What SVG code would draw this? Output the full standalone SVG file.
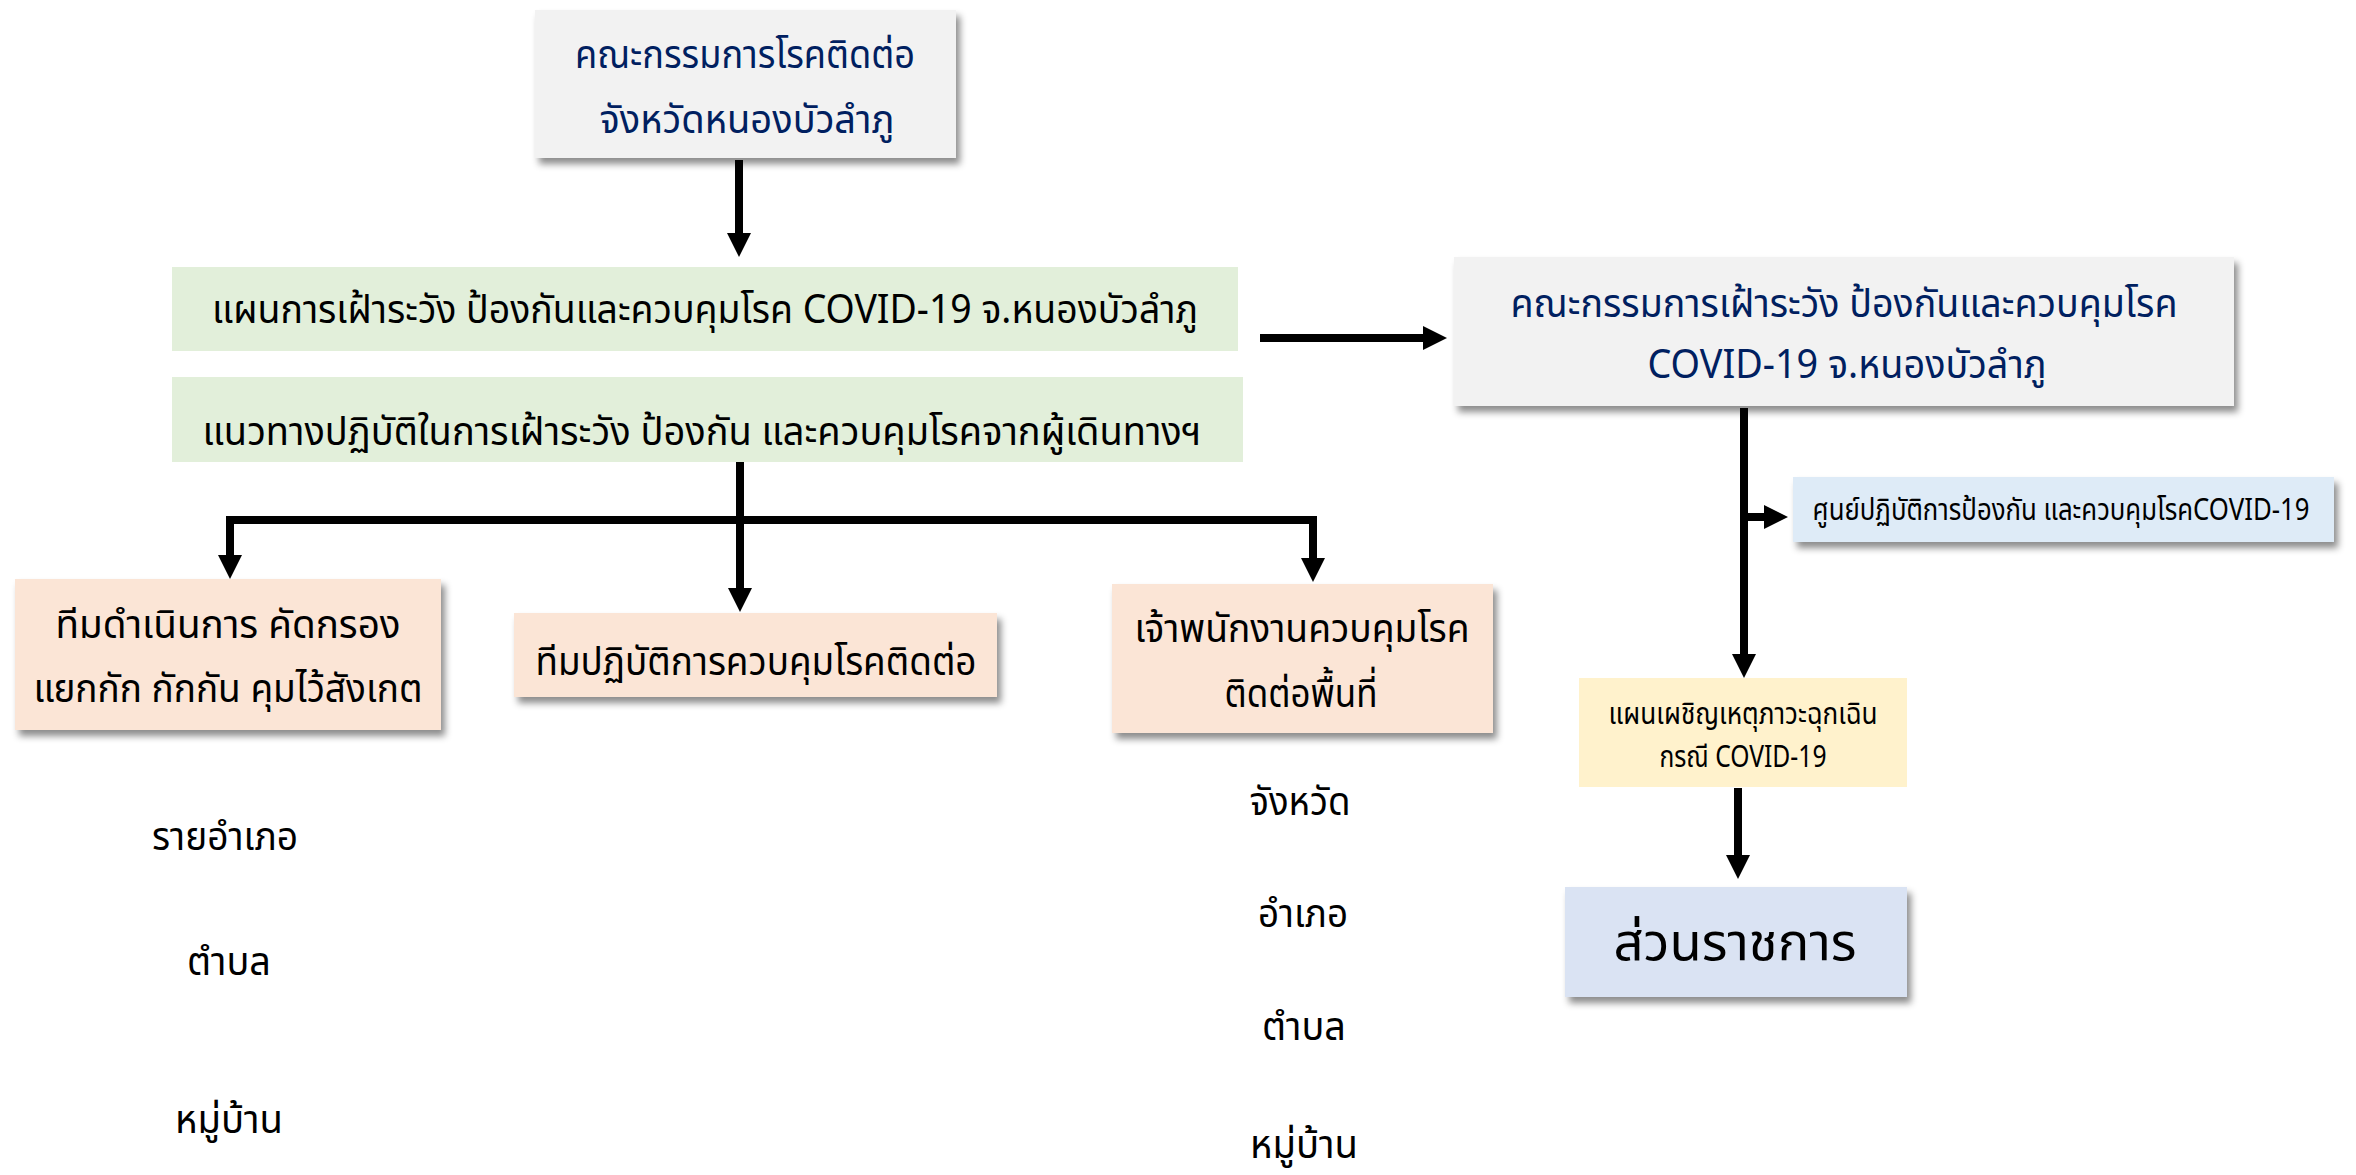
<svg xmlns="http://www.w3.org/2000/svg" width="2356" height="1175" viewBox="0 0 2356 1175">
<defs>
  <filter id="sh" x="-5%" y="-10%" width="115%" height="135%">
    <feDropShadow dx="4" dy="6" stdDeviation="3.5" flood-color="#000" flood-opacity="0.45"/>
  </filter>
  <marker id="ah" viewBox="0 0 24 24" refX="0" refY="12" markerWidth="24" markerHeight="24" markerUnits="userSpaceOnUse" orient="auto">
    <path d="M0,0 L24,12 L0,24 Z" fill="#000"/>
  </marker>
</defs>
<style>
  text { font-family: Tahoma, "Noto Sans Thai", "Noto Sans", "DejaVu Sans", sans-serif; text-anchor: middle; }
  .navy { fill: #002060; font-size: 40px; }
  .blk { fill: #000; font-size: 40px; }
  .sm { fill: #000; font-size: 30px; }
  .big { fill: #000; font-size: 52px; }
  .conn line, .conn path { stroke: #000; stroke-width: 8; fill: none; }
  .arr { marker-end: url(#ah); }
</style>
<rect width="2356" height="1175" fill="#fff"/>

<g class="conn" id="connectors">
  <line class="arr" x1="739" y1="160" x2="739" y2="233"/>
  <line class="arr" x1="1260" y1="338" x2="1423" y2="338"/>
  <line class="arr" x1="740" y1="462" x2="740" y2="588"/>
  <path d="M230,520 H1313" stroke-linecap="square"/>
  <line class="arr" x1="230" y1="520" x2="230" y2="555"/>
  <line class="arr" x1="1313" y1="520" x2="1313" y2="558"/>
  <line class="arr" x1="1744" y1="408" x2="1744" y2="654"/>
  <line class="arr" x1="1744" y1="517" x2="1764" y2="517"/>
  <line class="arr" x1="1738" y1="788" x2="1738" y2="855"/>
</g>

<g id="n-committee-top">
  <rect x="535" y="10" width="421" height="148" fill="#f2f2f2" filter="url(#sh)"/>
  <text class="navy" x="745" y="68" textLength="340" lengthAdjust="spacingAndGlyphs">คณะกรรมการโรคติดต่อ</text>
  <text class="navy" x="747" y="133" textLength="295" lengthAdjust="spacingAndGlyphs">จังหวัดหนองบัวลำภู</text>
</g>

<g id="n-plan">
  <rect x="172" y="267" width="1066" height="84" fill="#e2efda"/>
  <text class="blk" x="705" y="323" font-size="38" textLength="986" lengthAdjust="spacingAndGlyphs">แผนการเฝ้าระวัง ป้องกันและควบคุมโรค COVID-19 จ.หนองบัวลำภู</text>
</g>

<g id="n-guideline">
  <rect x="172" y="377" width="1071" height="85" fill="#e2efda"/>
  <text class="blk" x="702" y="445" font-size="38" textLength="999" lengthAdjust="spacingAndGlyphs">แนวทางปฏิบัติในการเฝ้าระวัง ป้องกัน และควบคุมโรคจากผู้เดินทางฯ</text>
</g>

<g id="n-committee-right">
  <rect x="1454" y="257" width="780" height="149" fill="#f2f2f2" filter="url(#sh)"/>
  <text class="navy" x="1844" y="317" font-size="38" textLength="667" lengthAdjust="spacingAndGlyphs">คณะกรรมการเฝ้าระวัง ป้องกันและควบคุมโรค</text>
  <text class="navy" x="1847" y="378" font-size="38" textLength="399" lengthAdjust="spacingAndGlyphs">COVID-19 จ.หนองบัวลำภู</text>
</g>

<g id="n-screening-team">
  <rect x="15" y="579" width="426" height="151" fill="#fbe5d6" filter="url(#sh)"/>
  <text class="blk" x="228" y="638" textLength="345" lengthAdjust="spacingAndGlyphs">ทีมดำเนินการ คัดกรอง</text>
  <text class="blk" x="228" y="702" textLength="389" lengthAdjust="spacingAndGlyphs">แยกกัก กักกัน คุมไว้สังเกต</text>
</g>

<g id="n-control-team">
  <rect x="514" y="613" width="483" height="84" fill="#fbe5d6" filter="url(#sh)"/>
  <text class="blk" x="756" y="675" textLength="441" lengthAdjust="spacingAndGlyphs">ทีมปฏิบัติการควบคุมโรคติดต่อ</text>
</g>

<g id="n-officer">
  <rect x="1112" y="584" width="381" height="149" fill="#fbe5d6" filter="url(#sh)"/>
  <text class="blk" x="1302" y="642" textLength="335" lengthAdjust="spacingAndGlyphs">เจ้าพนักงานควบคุมโรค</text>
  <text class="blk" x="1301" y="707" textLength="153" lengthAdjust="spacingAndGlyphs">ติดต่อพื้นที่</text>
</g>

<g id="n-eoc">
  <rect x="1793" y="477" width="541" height="65" fill="#deebf7" filter="url(#sh)"/>
  <text class="sm" x="2061" y="520" textLength="497" lengthAdjust="spacingAndGlyphs">ศูนย์ปฏิบัติการป้องกัน และควบคุมโรคCOVID-19</text>
</g>

<g id="n-response-plan">
  <rect x="1579" y="678" width="328" height="109" fill="#fff2cc"/>
  <text class="sm" x="1743" y="724" textLength="269" lengthAdjust="spacingAndGlyphs">แผนเผชิญเหตุภาวะฉุกเฉิน</text>
  <text class="sm" x="1743" y="767" textLength="167" lengthAdjust="spacingAndGlyphs">กรณี COVID-19</text>
</g>

<g id="n-agencies">
  <rect x="1565" y="887" width="342" height="110" fill="#dae3f3" filter="url(#sh)"/>
  <text class="big" x="1735" y="960" textLength="243" lengthAdjust="spacingAndGlyphs">ส่วนราชการ</text>
</g>

<g id="labels-left">
  <text class="blk" x="225" y="850" textLength="146" lengthAdjust="spacingAndGlyphs">รายอำเภอ</text>
  <text class="blk" x="229" y="975" textLength="84" lengthAdjust="spacingAndGlyphs">ตำบล</text>
  <text class="blk" x="229" y="1133" textLength="108" lengthAdjust="spacingAndGlyphs">หมู่บ้าน</text>
</g>

<g id="labels-right">
  <text class="blk" x="1300" y="815" textLength="101" lengthAdjust="spacingAndGlyphs">จังหวัด</text>
  <text class="blk" x="1303" y="927" textLength="90" lengthAdjust="spacingAndGlyphs">อำเภอ</text>
  <text class="blk" x="1304" y="1040" textLength="84" lengthAdjust="spacingAndGlyphs">ตำบล</text>
  <text class="blk" x="1304" y="1158" textLength="108" lengthAdjust="spacingAndGlyphs">หมู่บ้าน</text>
</g>
</svg>
